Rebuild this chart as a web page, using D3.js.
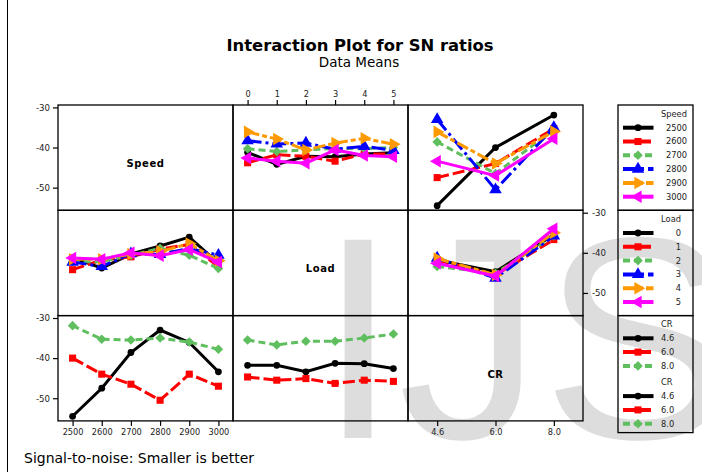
<!DOCTYPE html>
<html>
<head>
<meta charset="utf-8">
<script src="https://cdn.jsdelivr.net/npm/d3@7"></script>
<style>
body { margin: 0; background: #fff; }
text { font-family: "DejaVu Sans", sans-serif; }
</style>
</head>
<body>
<div id="chart"></div>
<script>
// factor levels
var speedLevels = ["2500", "2600", "2700", "2800", "2900", "3000"];
var loadLevels = ["0", "1", "2", "3", "4", "5"];
var crLevels = ["4.6", "6.0", "8.0"];
var yTicks = [-30, -40, -50];

// mean SN ratio: one row per speed, one column per load
var speedByLoad = [
    [-41.2, -44.2, -42.2, -42.3, -41.6, -41.3],
    [-43.8, -41.8, -42.2, -43.4, -41.6, -41.6],
    [-40.3, -41.0, -40.6, -40.2, -40.3, -40.0],
    [-38.3, -39.1, -38.9, -40.4, -39.7, -40.7],
    [-36.1, -37.9, -40.6, -38.9, -37.7, -39.2],
    [-42.6, -43.4, -43.9, -40.6, -42.0, -42.3]
];
// one row per speed, one column per CR
var speedByCR = [
    [-54.5, -40.0, -31.9],
    [-47.5, -44.0, -35.3],
    [-38.6, -46.5, -35.5],
    [-33.0, -50.5, -35.0],
    [-36.1, -44.0, -36.0],
    [-43.4, -47.0, -37.8]
];
// one row per load, one column per CR
var loadByCR = [
    [-41.8, -44.7, -35.5],
    [-41.8, -45.5, -36.7],
    [-43.4, -45.1, -35.8],
    [-41.3, -46.3, -35.8],
    [-41.4, -45.5, -35.0],
    [-42.6, -45.8, -34.0]
];

(function(){

    var width = 702;
    var height = 472;
    var left = 58, top = 105;
    var cellW = 175, cellH = 105.3;

    var svg = d3.select("#chart").append("svg")
        .attr("width", width)
        .attr("height", height);

    //line styles per level
    var styles = [
        {color: "#000000", dash: null, shape: "circle"},
        {color: "#ff0000", dash: "12,4", shape: "square"},
        {color: "#5fbf5f", dash: "7,4", shape: "diamond"},
        {color: "#0000ff", dash: "14,4,3,4", shape: "triUp"},
        {color: "#ff9900", dash: "12,3,5,3", shape: "triRight"},
        {color: "#ff00ff", dash: null, shape: "triLeft"}
    ];

    function transpose(m){
        return m[0].map(function(_, j){ return m.map(function(r){ return r[j]; }); });
    }

    function symbolPath(shape){
        var sym = d3.symbol();
        if(shape == "circle") sym.type(d3.symbolCircle).size(36);
        else if(shape == "square") sym.type(d3.symbolSquare).size(50);
        else if(shape == "diamond") sym.type(d3.symbolSquare).size(46);
        else sym.type(d3.symbolTriangle).size(68);
        return sym();
    }
    function symbolRot(shape){
        if(shape == "triRight") return 90;
        if(shape == "triLeft") return -90;
        if(shape == "diamond") return 45;
        return 0;
    }

    //watermark
    svg.append("text")
        .attr("x", 318)
        .attr("y", 438)
        .style("font-family", "'Liberation Sans', Arial, sans-serif")
        .attr("font-size", 288)
        .attr("fill", "#dddddd")
        .text("IJS");

    //frame line on the left
    svg.append("line")
        .attr("x1", 7.5).attr("x2", 7.5)
        .attr("y1", 0).attr("y2", height)
        .style("stroke", "#000").style("stroke-width", 1);

    //titles
    svg.append("text")
        .attr("x", 360).attr("y", 51)
        .attr("text-anchor", "middle")
        .attr("font-size", 16.4).attr("font-weight", "bold")
        .text("Interaction Plot for SN ratios");
    svg.append("text")
        .attr("x", 359).attr("y", 67)
        .attr("text-anchor", "middle")
        .attr("font-size", 13.5)
        .text("Data Means");
    svg.append("text")
        .attr("x", 24).attr("y", 463)
        .attr("font-size", 14)
        .text("Signal-to-noise: Smaller is better");

    var factors = [
        {name: "Speed", levels: speedLevels},
        {name: "Load", levels: loadLevels},
        {name: "CR", levels: crLevels}
    ];

    var panels = [
        {row: 0, col: 1, traces: speedByLoad},
        {row: 0, col: 2, traces: speedByCR},
        {row: 1, col: 0, traces: transpose(speedByLoad)},
        {row: 1, col: 2, traces: loadByCR},
        {row: 2, col: 0, traces: transpose(speedByCR)},
        {row: 2, col: 1, traces: transpose(loadByCR)}
    ];

    var xScales = factors.map(function(f, j){
        return d3.scalePoint().domain(f.levels)
            .range([left + j*cellW, left + (j+1)*cellW]).padding(0.5);
    });
    var yScales = factors.map(function(f, i){
        return d3.scaleLinear().domain([-55.65, -29.4])
            .range([top + (i+1)*cellH, top + i*cellH]);
    });

    //cell borders + diagonal labels
    factors.forEach(function(f, i){
        factors.forEach(function(g, j){
            svg.append("rect")
                .attr("x", left + j*cellW).attr("y", top + i*cellH)
                .attr("width", cellW).attr("height", cellH)
                .style("fill", "none").style("stroke", "#000").style("stroke-width", 1.3);
        });
        svg.append("text")
            .attr("x", left + i*cellW + cellW/2)
            .attr("y", top + i*cellH + cellH/2 + 6)
            .attr("dy", "0.35em")
            .attr("text-anchor", "middle")
            .attr("font-size", 10).attr("font-weight", "bold")
            .style("letter-spacing", "0.6px")
            .text(f.name);
    });

    //axes
    function styleAxis(g, size){
        g.select(".domain").remove();
        g.selectAll("line").style("stroke", "#000").style("stroke-width", 1.2);
        g.selectAll("text").attr("font-size", size).attr("fill", "#222")
            .style("font-family", "'DejaVu Sans', sans-serif");
    }
    var yFmt = function(d){ return d; };
    [0, 2].forEach(function(i){
        svg.append("g").attr("transform", "translate(" + left + ",0)")
            .call(d3.axisLeft(yScales[i]).tickValues(yTicks).tickFormat(yFmt).tickSize(5).tickPadding(3))
            .call(styleAxis, 8.6);
    });
    svg.append("g").attr("transform", "translate(" + (left + 3*cellW) + ",0)")
        .call(d3.axisRight(yScales[1]).tickValues(yTicks).tickFormat(yFmt).tickSize(5).tickPadding(4))
        .call(styleAxis, 8.6);
    svg.append("g").attr("transform", "translate(0," + top + ")")
        .call(d3.axisTop(xScales[1]).tickSize(5).tickPadding(3))
        .call(styleAxis, 8.2);
    [0, 2].forEach(function(j){
        svg.append("g").attr("transform", "translate(0," + (top + 3*cellH) + ")")
            .call(d3.axisBottom(xScales[j]).tickSize(5).tickPadding(3))
            .call(styleAxis, 8.2);
    });

    //interaction lines
    panels.forEach(function(p){
        var xs = xScales[p.col], ys = yScales[p.row];
        var xLev = factors[p.col].levels;
        var g = svg.append("g");
        p.traces.forEach(function(vals, k){
            var st = styles[k];
            var pts = vals.map(function(v, t){ return [xs(xLev[t]), ys(v)]; });
            g.append("path")
                .attr("d", d3.line()(pts))
                .style("fill", "none")
                .style("stroke", st.color)
                .style("stroke-width", 3)
                .style("stroke-dasharray", st.dash);
            g.selectAll(null).data(pts).enter().append("path")
                .attr("d", symbolPath(st.shape))
                .attr("transform", function(d){ return "translate(" + d[0] + "," + d[1] + ") rotate(" + symbolRot(st.shape) + ")"; })
                .style("fill", st.color);
        });
    });

    //legends
    var legends = [
        {y: 105, h: 105.3, anchor: "end", tx: 687, groups: [{title: "Speed", labels: speedLevels, off: 8.7}]},
        {y: 210.3, h: 105.3, anchor: "end", tx: 681, groups: [{title: "Load", labels: loadLevels, off: 8.7}]},
        {y: 315.6, h: 117, anchor: "start", tx: 661, groups: [
            {title: "CR", labels: crLevels, off: 8.7},
            {title: "CR", labels: crLevels, off: 66.5}
        ]}
    ];
    legends.forEach(function(lg){
        svg.append("rect")
            .attr("x", 618).attr("y", lg.y)
            .attr("width", 75).attr("height", lg.h)
            .style("fill", "none").style("stroke", "#000").style("stroke-width", 1.3);
        lg.groups.forEach(function(grp){
            svg.append("text")
                .attr("x", lg.tx).attr("y", lg.y + grp.off).attr("dy", "0.35em")
                .attr("text-anchor", lg.anchor)
                .attr("font-size", 8.3).attr("fill", "#222")
                .text(grp.title);
            grp.labels.forEach(function(lab, k){
                var st = styles[k];
                var cy = lg.y + grp.off + 14 + 13.8*k;
                svg.append("line")
                    .attr("x1", 623).attr("x2", 653.5)
                    .attr("y1", cy).attr("y2", cy)
                    .style("stroke", st.color).style("stroke-width", 4)
                    .style("stroke-dasharray", st.dash);
                svg.append("path")
                    .attr("d", symbolPath(st.shape))
                    .attr("transform", "translate(638," + cy + ") rotate(" + symbolRot(st.shape) + ")")
                    .style("fill", st.color);
                svg.append("text")
                    .attr("x", lg.tx).attr("y", cy).attr("dy", "0.35em")
                    .attr("text-anchor", lg.anchor)
                    .attr("font-size", 8.3).attr("fill", "#222")
                    .text(lab);
            });
        });
    });

})();
</script>
</body>
</html>
